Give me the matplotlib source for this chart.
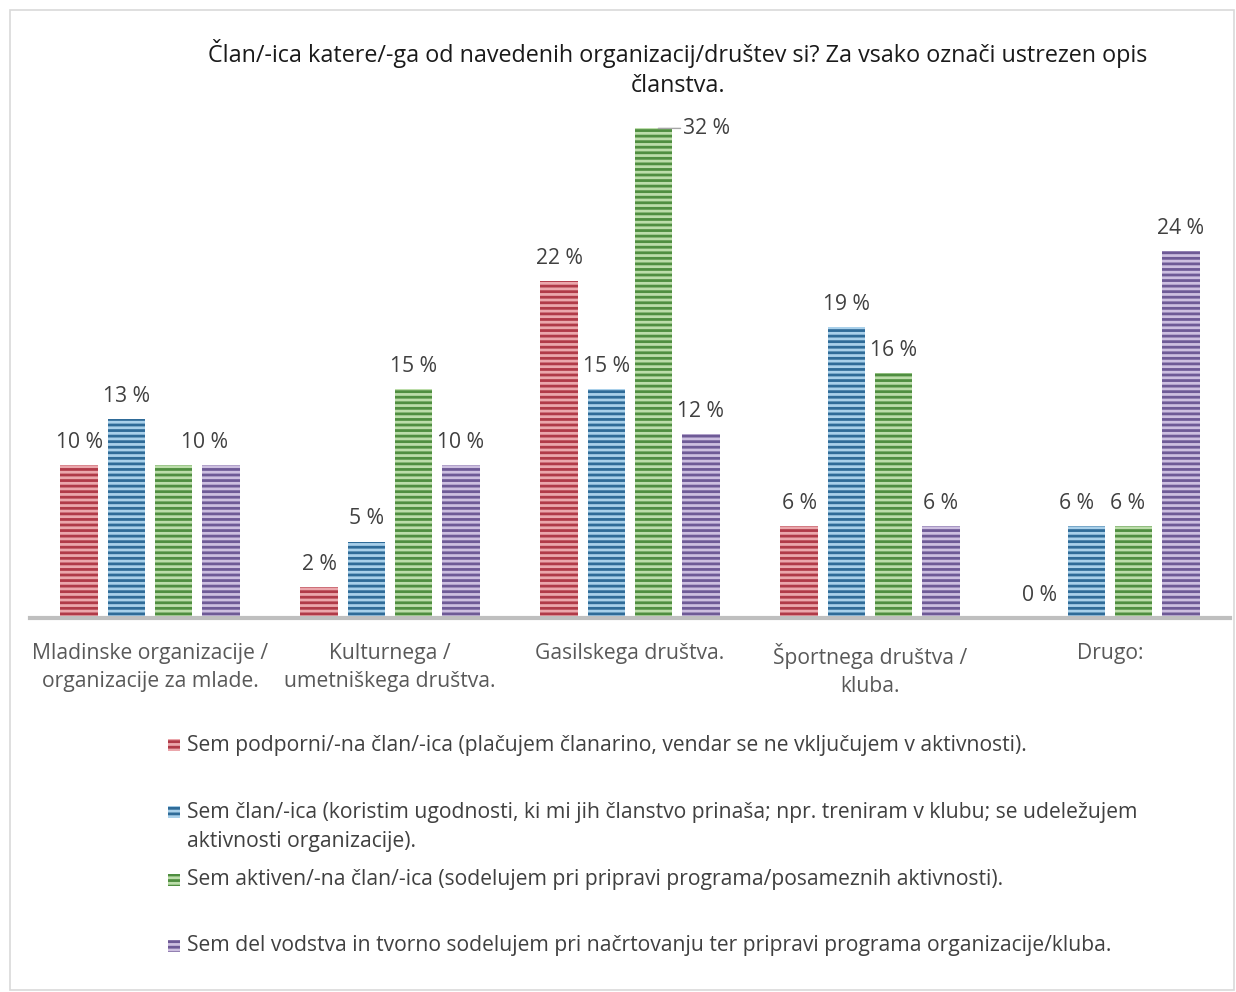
import numpy as np
import matplotlib.pyplot as plt
from matplotlib.patches import Rectangle

plt.rcParams['font.family'] = ['Open Sans', 'DejaVu Sans']
plt.rcParams['hatch.linewidth'] = 2.0

categories = ['Mladinske organizacije /\norganizacije za mlade.',
              'Kulturnega /\numetniškega društva.',
              'Gasilskega društva.',
              'Športnega društva /\nkluba.',
              'Drugo:']
series_names = ['Sem podporni/-na član/-ica (plačujem članarino, vendar se ne vključujem v aktivnosti).',
                'Sem član/-ica (koristim ugodnosti, ki mi jih članstvo prinaša; npr. treniram v klubu; se udeležujem\naktivnosti organizacije).',
                'Sem aktiven/-na član/-ica (sodelujem pri pripravi programa/posameznih aktivnosti).',
                'Sem del vodstva in tvorno sodelujem pri načrtovanju ter pripravi programa organizacije/kluba.']
podporni = [10, 2, 22, 6, 0]
clan = [13, 5, 15, 19, 6]
aktiven = [10, 15, 32, 16, 6]
vodstvo = [10, 10, 12, 6, 24]
values = [podporni, clan, aktiven, vodstvo]

dark = ['#B03A48', '#2F6B98', '#4F8E40', '#6E5A96']
light = ['#EBA7AC', '#A9D0EA', '#BCDDAA', '#CDBFE0']
fs = 15.2

fig = plt.figure(figsize=(12.36, 9.92), dpi=100)
# outer frame
fig.add_artist(Rectangle((10 / 1236, 2 / 992), 1224 / 1236, 980 / 992, transform=fig.transFigure,
                         fill=False, edgecolor='#D9D9D9', linewidth=1.2))

ax = fig.add_axes([30 / 1236, 374 / 992, 1200 / 1236, 34 * 15.3 / 992])
x = np.arange(len(categories))
pitch = 0.196
width = 0.158
for i, vals in enumerate(values):
    ax.bar(x + (i - 1.5) * pitch, vals, width, color=light[i], edgecolor=dark[i],
           hatch='---', linewidth=0, label=series_names[i])

# label shifts in pixels (series, group)
shifts = {(3, 0): (-16, 0), (1, 4): (-10, 0), (2, 4): (-6, 0)}
skip = {(2, 0)}
for i, vals in enumerate(values):
    for j, v in enumerate(vals):
        if (i, j) in skip:
            continue
        xc = x[j] + (i - 1.5) * pitch
        if (i, j) == (2, 2):
            ax.annotate(f'{v} %', xy=(xc + 0.02, v), xytext=(25, 0), textcoords='offset pixels',
                        ha='left', va='center', fontsize=fs, color='#404040',
                        arrowprops=dict(arrowstyle='-', color='#A6A6A6', lw=1.0,
                                        shrinkA=0, shrinkB=0))
            continue
        dx, dy = shifts.get((i, j), (0, 0))
        ax.annotate(f'{v} %', xy=(xc, v), xytext=(dx, 12 + dy), textcoords='offset pixels',
                    ha='center', va='bottom', fontsize=fs, color='#404040')

ax.set_xlim(-0.5, 4.5)
ax.set_ylim(0, 34)
ax.set_yticks([])
ax.set_xticks(x)
ax.set_xticklabels(categories, fontsize=fs, color='#595959', linespacing=1.45)
ax.tick_params(axis='x', length=0, pad=18)
for s in ['top', 'right', 'left']:
    ax.spines[s].set_visible(False)
ax.spines['bottom'].set_color('#BFBFBF')
ax.spines['bottom'].set_linewidth(3)
ax.patch.set_alpha(0)

fig.text(678 / 1236, 1 - 53 / 992, 'Član/-ica katere/-ga od navedenih organizacij/društev si? Za vsako označi ustrezen opis',
         ha='center', va='center', fontsize=16.8, color='#1a1a1a')
fig.text(678 / 1236, 1 - 86 / 992, 'članstva.', ha='center', va='center', fontsize=16.8, color='#1a1a1a')

# legend
mark_y = [745, 812, 880, 946]
text_y = [745, 827, 880, 946]
for i in range(4):
    fig.add_artist(Rectangle((168 / 1236, 1 - (mark_y[i] + 6) / 992), 12 / 1236, 12 / 992,
                             transform=fig.transFigure, facecolor=light[i], edgecolor=dark[i],
                             hatch='---', linewidth=0))
    fig.text(187 / 1236, 1 - text_y[i] / 992, series_names[i], ha='left', va='center',
             fontsize=fs, color='#404040', linespacing=1.5)

fig.savefig('out.png', dpi=100)
